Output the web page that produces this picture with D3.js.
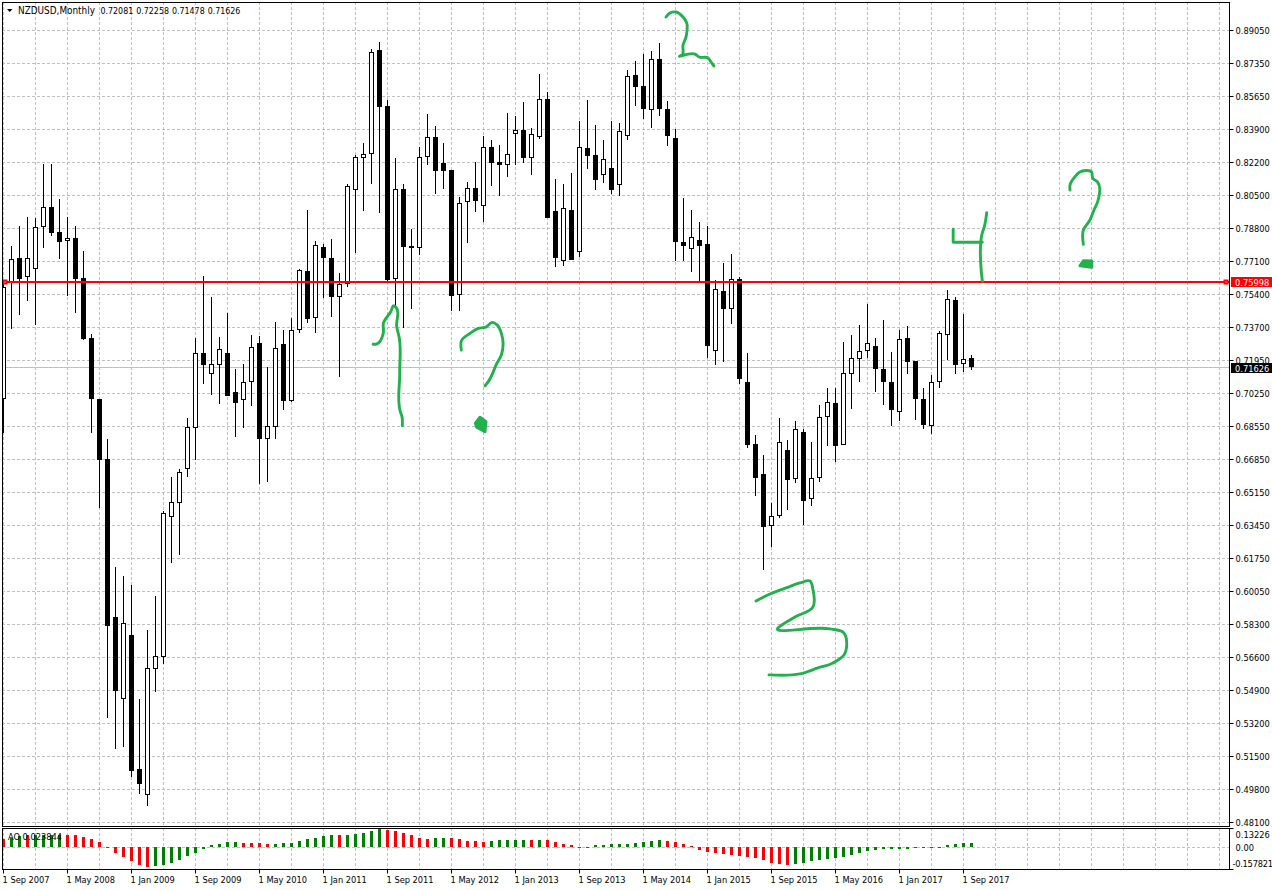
<!DOCTYPE html>
<html>
<head>
<meta charset="utf-8">
<title>NZDUSD, Monthly</title>
<script src="https://cdnjs.cloudflare.com/ajax/libs/d3/7.8.5/d3.min.js"></script>
<style>
html,body{margin:0;padding:0;background:#fff;overflow:hidden}
svg{display:block}
text{font-family:"DejaVu Sans Condensed","DejaVu Sans",sans-serif;font-stretch:condensed;font-size:9.2px;fill:#000}
</style>
</head>
<body>
<svg id="chart" width="1272" height="890"></svg>
<script>
const opens = [
.6996,.7598,.7726,.7627,.7669,.7889,.7990,.7860,.7814,.7829,
.7622,.7312,.6996,.6685,.5867,.5443,.5774,.5080,.4949,.5598,
.5660,.6385,.6457,.6633,.6849,.7234,.7128,.7175,.7234,.7032,
.6994,.7084,.7286,.6792,.6854,.7281,.6989,.7353,.7660,.7415,
.7783,.7726,.7527,.7591,.8078,.8247,.8264,.8803,.8513,.7620,
.8083,.7788,.7778,.8249,.8352,.8218,.8183,.7534,.8016,.8088,
.7995,.8300,.8223,.8207,.8368,.8388,.8244,.8355,.8549,.7969,
.7713,.7974,.7757,.8295,.8259,.8155,.8192,.8104,.8357,.8673,
.8616,.8492,.8756,.8497,.8347,.7809,.7772,.7819,.7798,.7247,
.7555,.7462,.7617,.7084,.6763,.6608,.6338,.6393,.6732,.6582,
.6825,.6478,.6587,.6903,.6975,.6758,.7125,.7203,.7244,.7270,
.7151,.7084,.6929,.7312,.7192,.6996,.6856,.7084,.7327,.7508,
.7177,.72081];
const highs = [
.7598,.7790,.7893,.7938,.7933,.8214,.8214,.8031,.7938,.7893,
.7764,.7332,.6996,.6789,.6128,.6081,.6034,.5443,.5801,.5977,
.6417,.6594,.6633,.6899,.7312,.7634,.7525,.7317,.7443,.7153,
.7179,.7329,.7324,.7161,.7396,.7355,.7417,.7669,.7976,.7814,
.7798,.7824,.7648,.8110,.8261,.8321,.8808,.8844,.8545,.8244,
.8110,.7878,.8302,.8473,.8409,.8321,.8183,.8043,.8119,.8223,
.8359,.8337,.8311,.8476,.8462,.8533,.8399,.8680,.8585,.8136,
.8110,.8166,.8435,.8544,.8414,.8337,.8435,.8425,.8699,.8746,
.8782,.8797,.8839,.8539,.8394,.8036,.7974,.7912,.7891,.7613,
.7701,.7748,.7627,.7234,.6811,.6708,.6459,.6897,.6785,.6882,
.6841,.6773,.6965,.7053,.7053,.7292,.7327,.7379,.7489,.7312,
.7405,.7239,.7353,.7374,.7192,.7053,.7120,.7348,.7562,.7524,
.7436,.72258];
const lows = [
.6821,.7360,.7434,.7506,.7382,.7781,.7843,.7724,.7531,.7444,
.7303,.6823,.6433,.5347,.5187,.5197,.5042,.4954,.4892,.5482,
.5625,.6150,.6190,.6595,.6682,.7075,.7018,.6972,.7015,.6801,
.6847,.6961,.6557,.6568,.6792,.6940,.6983,.7341,.7392,.7341,
.7520,.7423,.7113,.7579,.7755,.7972,.8112,.7962,.7610,.7469,
.7367,.7462,.7743,.8210,.8060,.8086,.7455,.7455,.7807,.7967,
.7915,.8102,.8050,.8148,.8210,.8221,.8159,.8345,.7936,.7682,
.7688,.7719,.7734,.8190,.8081,.8117,.8060,.8050,.8340,.8516,
.8449,.8402,.8464,.8309,.7710,.7710,.7656,.7608,.7208,.7175,
.7187,.7387,.7075,.6745,.6497,.6114,.6233,.6383,.6424,.6564,
.6345,.6445,.6569,.6756,.6673,.6758,.6947,.7087,.7211,.7035,
.6968,.6859,.6885,.7128,.6890,.6844,.6818,.7056,.7198,.7128,
.7139,.71478];
const closes = [
.7576,.7721,.7620,.7726,.7889,.7993,.7858,.7812,.7829,.7620,
.7308,.6999,.6682,.5824,.5487,.5836,.5073,.5006,.5603,.5665,
.6406,.6463,.6618,.6851,.7234,.7175,.7177,.7255,.7015,.6978,
.7084,.7265,.6792,.6856,.7260,.6989,.7353,.7665,.7412,.7793,
.7729,.7527,.7591,.8099,.8249,.8264,.8792,.8511,.7615,.8083,
.7786,.7781,.8249,.8352,.8179,.8179,.7532,.8011,.8088,.8024,
.8300,.8221,.8207,.8264,.8388,.8244,.8368,.8549,.7936,.7729,
.7985,.7719,.8300,.8257,.8133,.8238,.8081,.8383,.8668,.8614,
.8497,.8756,.8497,.8357,.7809,.7788,.7838,.7791,.7273,.7565,
.7465,.7617,.7102,.6761,.6590,.6336,.6393,.6773,.6580,.6841,
.6471,.6587,.6903,.6980,.6756,.7130,.7208,.7244,.7286,.7151,
.7084,.6942,.7306,.7190,.6999,.6864,.7084,.7337,.7513,.7175,
.7203,.71626];

const aoValues = [
.052,.064,.076,.080,.083,.083,.083,.083,.080,.080,
.066,.052,.031,-.012,-.047,-.076,-.104,-.132,-.146,-.139,
-.132,-.118,-.097,-.068,-.042,-.019,.009,.017,.031,.031,
.024,.024,.024,.017,.017,.024,.024,.038,.052,.059,
.073,.080,.080,.080,.087,.094,.109,.123,.116,.109,
.094,.080,.059,.052,.059,.059,.059,.052,.038,.038,
.031,.038,.045,.045,.045,.045,.045,.045,.045,.031,
.017,.009,-.004,-.004,.009,.009,.017,.017,.017,.024,
.031,.038,.045,.038,.031,.017,.003,-.026,-.040,-.047,
-.054,-.061,-.068,-.076,-.083,-.097,-.118,-.125,-.132,-.125,
-.118,-.104,-.097,-.090,-.083,-.076,-.061,-.047,-.033,-.026,
-.019,-.019,-.019,-.019,-.012,-.012,-.012,-.005,.009,.017,
.024,.0238];
const aoRising = [
0,1,1,0,1,1,1,1,0,0,
0,0,0,0,0,0,0,0,0,1,
1,1,1,1,1,1,1,1,1,1,
0,0,0,0,1,1,1,1,1,1,
1,1,0,1,1,1,1,1,0,0,
0,0,0,0,1,1,0,0,0,0,
0,1,1,1,1,1,0,1,0,0,
0,0,0,0,1,1,1,1,1,1,
1,1,1,0,0,0,0,0,0,0,
0,0,0,0,0,0,0,0,0,1,
1,1,1,1,1,1,1,1,1,1,
1,1,1,1,1,1,1,1,1,1,
1,1];

const title = "NZDUSD,Monthly";
const lastOHLC = ["0.72081","0.72258","0.71478","0.71626"];
const priceTicks = [.89050,.87342,.85633,.83925,.82216,.80508,.78800,.77091,.75383,.73674,.71966,.70258,.68549,.66841,.65132,.63424,.61716,.60007,.58299,.56590,.54882,.53174,.51465,.49757,.48048];
const priceLabels = ["0.89050","0.87350","0.85650","0.83900","0.82200","0.80500","0.78800","0.77100","0.75400","0.73700","0.71950","0.70250","0.68550","0.66850","0.65150","0.63450","0.61750","0.60050","0.58300","0.56600","0.54900","0.53200","0.51500","0.49800","0.48100"];
const timeLabels = ["1 Sep 2007","1 May 2008","1 Jan 2009","1 Sep 2009","1 May 2010","1 Jan 2011","1 Sep 2011","1 May 2012","1 Jan 2013","1 Sep 2013","1 May 2014","1 Jan 2015","1 Sep 2015","1 May 2016","1 Jan 2017","1 Sep 2017"];
const hLinePrice = 0.75998;
const bidPrice = 0.71626;
const aoLabel = "AO 0.023844";
const aoTicks = [0.13226, 0, -0.157821];
const aoTickLabels = ["0.13226", "0.00", "-0.157821"];

// hand-drawn green notes, as [candle index, price]
const inkStrokes = [
 [[46.2,.7281],[46.65,.7282],[47.48,.7338],[47.48,.7389],[48.4,.7449],[48.81,.7480],[49.06,.7472],[49.15,.7372],[49.48,.7312],[49.53,.7130],[49.6,.6932],[49.81,.6906],[49.85,.6858]],
 [[57.23,.7251],[57.23,.7298],[58.31,.7337],[59.35,.7363],[60.28,.7369],[61.1,.7394],[61.73,.7380],[62.23,.7337],[62.23,.7225],[61.56,.7173],[61.23,.7139],[60.6,.7087],[60.19,.7065]],
 [[82.81,.8975],[83.31,.8996],[84.06,.9001],[84.94,.8975],[85.44,.8939],[85.44,.8903],[85.31,.8871],[84.94,.8830],[84.81,.8778],[84.56,.8773],[86.44,.8783],[86.94,.8768],[88.06,.8763],[88.44,.8742],[88.81,.8721]],
 [[94.06,.5952],[95.81,.5988],[97.81,.6019],[99.56,.6045],[100.81,.6055],[101.19,.6009],[101.19,.5921],[98.94,.5869],[96.81,.5812],[103.31,.5807],[104.94,.5791],[105.06,.5672],[103.69,.5631],[101.81,.5605],[99.56,.5574],[95.69,.5569]],
 [[118.71,.7877],[118.71,.7809],[122.35,.7809]],
 [[122.35,.7608],[122.35,.7857],[122.6,.7889],[122.9,.7962]],
 [[133.31,.8079],[133.31,.8105],[133.94,.8148],[134.48,.8171],[136.03,.8171],[136.15,.8140],[136.73,.8122],[136.78,.8019],[136.31,.7976],[135.81,.7924],[134.98,.7872],[134.98,.7798]]
];
const inkDots = [
 [[59,.6872],[59.56,.6903],[60.31,.6880],[60.19,.6828],[59.15,.6851]],
 [[134.56,.7687],[134.98,.7713],[136.03,.7712],[136.03,.7679]]
];

const INK = "#22b14c", GRID = "#c0c0c0";
const frame = {left:2, top:2, right:1229, mainBottom:826, aoTop:828, aoBottom:869};

const svg = d3.select("#chart");
const n = opens.length;
const x = d3.scaleLinear().domain([0, n - 1]).range([3.5, 971.5]);
const y = d3.scaleLinear().domain([0.9063, 0.4]).range([0, (0.9063 - 0.4) * 1931.6]);
const yAo = d3.scaleLinear().domain([aoTicks[2], aoTicks[0]]).range([frame.aoBottom, frame.aoTop]);
const crisp = v => Math.round(v - 0.5) + 0.5;

svg.append("defs").append("clipPath").attr("id","mainClip").append("rect")
  .attr("x", frame.left + 1).attr("y", frame.top + 1)
  .attr("width", frame.right - frame.left - 1).attr("height", frame.mainBottom - frame.top - 1);
svg.append("defs").append("clipPath").attr("id","aoClip").append("rect")
  .attr("x", frame.left + 1).attr("y", frame.aoTop + 1)
  .attr("width", frame.right - frame.left - 1).attr("height", frame.aoBottom - frame.aoTop - 1);

const main = svg.append("g").attr("clip-path","url(#mainClip)");
const ao = svg.append("g").attr("clip-path","url(#aoClip)");

// grid
const gridIdx = d3.range(0, 153, 4);
main.append("g").selectAll("line").data(gridIdx).join("line")
  .attr("x1", d => Math.floor(x(d)) + .5).attr("x2", d => Math.floor(x(d)) + .5)
  .attr("y1", frame.top).attr("y2", frame.mainBottom)
  .attr("stroke", GRID).attr("stroke-dasharray","3,2");
main.append("g").selectAll("line").data(priceTicks).join("line")
  .attr("x1", frame.left).attr("x2", frame.right)
  .attr("y1", d => crisp(y(d))).attr("y2", d => crisp(y(d)))
  .attr("stroke", GRID).attr("stroke-dasharray","3,2");
ao.append("g").selectAll("line").data(gridIdx).join("line")
  .attr("x1", d => Math.floor(x(d)) + .5).attr("x2", d => Math.floor(x(d)) + .5)
  .attr("y1", frame.aoTop).attr("y2", frame.aoBottom)
  .attr("stroke", GRID).attr("stroke-dasharray","3,2");
ao.append("line").attr("x1", frame.left).attr("x2", frame.right)
  .attr("y1", 847.5).attr("y2", 847.5)
  .attr("stroke", GRID).attr("stroke-dasharray","3,2");

// bid line
main.append("line").attr("x1", frame.left).attr("x2", frame.right)
  .attr("y1", crisp(y(bidPrice))).attr("y2", crisp(y(bidPrice))).attr("stroke", GRID);

// candles
const candles = main.append("g").selectAll("g").data(d3.range(n)).join("g");
candles.append("line")
  .attr("x1", i => Math.floor(x(i)) + .5).attr("x2", i => Math.floor(x(i)) + .5)
  .attr("y1", i => Math.round(y(highs[i]))).attr("y2", i => Math.round(y(lows[i])))
  .attr("stroke", "#000");
candles.filter(i => closes[i] < opens[i]).append("rect")
  .attr("x", i => Math.floor(x(i)) - 2).attr("width", 5)
  .attr("y", i => Math.round(y(opens[i])))
  .attr("height", i => Math.max(1, Math.round(y(closes[i])) - Math.round(y(opens[i]))))
  .attr("fill", "#000");
candles.filter(i => closes[i] >= opens[i]).append("rect")
  .attr("x", i => Math.floor(x(i)) - 1.5).attr("width", 4)
  .attr("y", i => Math.round(y(closes[i])) + .5)
  .attr("height", i => Math.max(1, Math.round(y(opens[i])) - Math.round(y(closes[i])) - 1))
  .attr("fill", "#fff").attr("stroke", "#000");

// horizontal line
const hy = Math.floor(y(hLinePrice));
main.append("line").attr("x1", frame.left).attr("x2", frame.right)
  .attr("y1", hy).attr("y2", hy).attr("stroke", "#f00").attr("stroke-width", 2);
[5, 1226].forEach(px => {
  svg.append("rect").attr("x", px - 1.5).attr("y", hy - 1.5).attr("width", 3).attr("height", 3)
    .attr("fill", "#fff").attr("stroke", "#f00").attr("stroke-width", 2);
});

// hand-drawn ink
const inkLine = d3.line().curve(d3.curveCatmullRom.alpha(1)).x(d => x(d[0])).y(d => y(d[1]));
const inkPoly = d3.line().x(d => x(d[0])).y(d => y(d[1]));
const ink = svg.append("g");
ink.selectAll("path.stroke").data(inkStrokes).join("path").attr("class","stroke")
  .attr("d", d => d.length < 4 ? inkPoly(d) : inkLine(d)).attr("fill","none").attr("stroke",INK)
  .attr("stroke-width",2.9).attr("stroke-linejoin","round").attr("stroke-linecap","round");
ink.selectAll("path.dot").data(inkDots).join("path").attr("class","dot")
  .attr("d", d => inkPoly(d) + "Z").attr("fill",INK).attr("stroke",INK)
  .attr("stroke-width",3).attr("stroke-linejoin","round");

// AO histogram
const y0Ao = 847;
ao.append("g").selectAll("rect").data(d3.range(n)).join("rect")
  .attr("x", i => Math.floor(x(i)) - 1).attr("width", 3)
  .attr("y", i => aoValues[i] >= 0 ? Math.round(yAo(aoValues[i])) : y0Ao)
  .attr("height", i => Math.max(1, Math.abs(Math.round(yAo(aoValues[i])) - y0Ao)))
  .attr("fill", i => aoRising[i] ? "#008000" : "#f00");

// frames
const fr = svg.append("g").attr("stroke","#000").attr("fill","none").attr("stroke-width",1);
fr.append("rect").attr("x", frame.left + .5).attr("y", frame.top + .5)
  .attr("width", frame.right - frame.left).attr("height", frame.mainBottom - frame.top);
fr.append("rect").attr("x", frame.left + .5).attr("y", frame.aoTop + .5)
  .attr("width", frame.right - frame.left).attr("height", frame.aoBottom - frame.aoTop);

// price axis
const yAxis = d3.axisRight(y).tickValues(priceTicks)
  .tickFormat((d,i) => priceLabels[i]).tickSize(4).tickPadding(2);
const gY = svg.append("g").attr("transform", `translate(${frame.right + .5},0)`).call(yAxis);
gY.select(".domain").remove();
gY.selectAll(".tick").attr("transform", d => `translate(0,${crisp(y(d))})`);
gY.selectAll("line").attr("stroke","#000");
gY.selectAll("text").attr("dy","0.38em");

// AO axis
const aoAxis = d3.axisRight(yAo).tickValues(aoTicks)
  .tickFormat((d,i) => aoTickLabels[i]).tickSize(4).tickPadding(2);
const gAo = svg.append("g").attr("transform", `translate(${frame.right + .5},0)`).call(aoAxis);
gAo.select(".domain").remove();
gAo.selectAll("line").attr("stroke", d => d === 0 ? "none" : "#000");
gAo.selectAll("text").attr("dy", (d,i) => ["1.0em","0.38em","-0.24em"][i])
  .attr("x", (d,i) => i === 2 ? 3 : 6)
  .style("letter-spacing", (d,i) => i === 2 ? "-0.25px" : null);
gAo.attr("font-family",null).attr("font-size",null);
gY.attr("font-family",null).attr("font-size",null);

// time axis
const tickIdx = timeLabels.map((d,i) => i * 8);
const xAxis = d3.axisBottom(x).tickValues(tickIdx).tickFormat((d,i) => timeLabels[i]).tickSize(4).tickPadding(3);
const gX = svg.append("g").attr("transform", `translate(0,${frame.aoBottom + .5})`).call(xAxis);
gX.select(".domain").remove();
gX.attr("font-family",null).attr("font-size",null);
gX.selectAll(".tick").attr("transform", d => `translate(${Math.floor(x(d)) + .5},0)`);
gX.selectAll("line").attr("stroke","#000");
gX.selectAll("text").attr("text-anchor","start").attr("x",-1);

// price tags
const tag = (price, label, fill, up) => {
  const top = Math.round(y(price)) - up;
  svg.append("rect").attr("x", frame.right + 2).attr("y", top).attr("width", 41).attr("height", 10).attr("fill", fill);
  svg.append("text").attr("x", frame.right + 6).attr("y", top + 8.5).style("fill","#fff").text(label);
};
tag(hLinePrice, "0.75998", "#f00", 6);
tag(bidPrice, lastOHLC[3], "#000", 4);

// header
svg.append("path").attr("d", d3.line()([[7,9],[12.5,9],[9.75,12]]) + "Z").attr("fill","#000");
svg.append("text").attr("x", 18).attr("y", 14).style("font-size","9.9px").text(title);
svg.append("text").attr("x", 100.5).attr("y", 14).style("font-size","8.8px").style("word-spacing","0.5px").text(lastOHLC.join(" "));
svg.append("text").attr("x", 8).attr("y", 840).text(aoLabel);
</script>
</body>
</html>
